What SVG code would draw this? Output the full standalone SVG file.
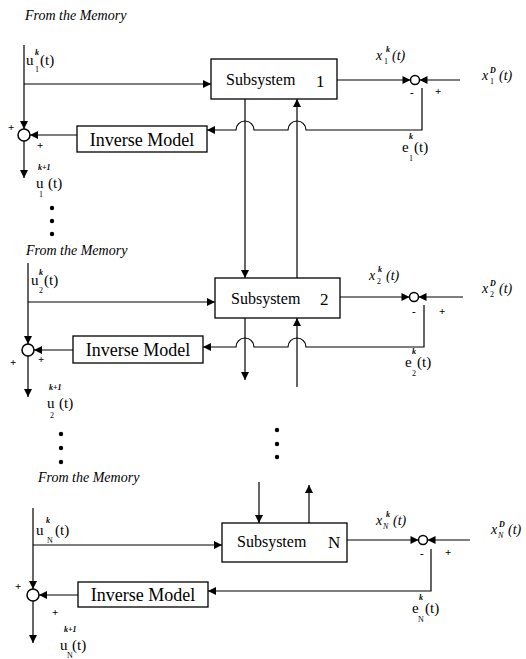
<svg xmlns="http://www.w3.org/2000/svg" width="526" height="659" viewBox="0 0 526 659">
<style>
.ln{fill:none;stroke:#000;stroke-width:1.2}
.bx{fill:#fff;stroke:#000;stroke-width:1.3}
.ci{fill:#fff;stroke:#000;stroke-width:1.5}
.t{font-family:"Liberation Serif",serif;fill:#000}
.mem{font-family:"Liberation Serif",serif;font-style:italic;font-size:14px}
.sub{font-size:16px}
.inv{font-size:18px}
.u{font-size:15px}
.s{font-size:8px}
.si{font-size:8px;font-style:italic;font-weight:bold}
.xi{font-style:italic;font-size:14px}
.pm{font-size:11px;font-weight:bold}
</style>
<defs>
<marker id="ah" viewBox="0 0 10 10" refX="10" refY="5" markerWidth="9" markerHeight="8" markerUnits="userSpaceOnUse" orient="auto"><path d="M0,0 L10,5 L0,10 z" fill="#000"/></marker>
</defs>
<rect width="526" height="659" fill="#fff"/>

<g id="connectors">
<!-- section 1 -->
<path class="ln" d="M24,45 V129" marker-end="url(#ah)"/>
<path class="ln" d="M24,84 H211" marker-end="url(#ah)"/>
<path class="ln" d="M337,80 H410.5" marker-end="url(#ah)"/>
<path class="ln" d="M460,80 H419.5" marker-end="url(#ah)"/>
<path class="ln" d="M422,88 V130 H306 A9,9 0 0 0 288,130 H254 A9,9 0 0 0 236,130 H207" marker-end="url(#ah)"/>
<path class="ln" d="M77,135 H30" marker-end="url(#ah)"/>
<path class="ln" d="M24,141 V178" marker-end="url(#ah)"/>
<path class="ln" d="M245,99 V278" marker-end="url(#ah)"/>
<path class="ln" d="M297,278 V99" marker-end="url(#ah)"/>
<!-- section 2 -->
<path class="ln" d="M28,263 V344" marker-end="url(#ah)"/>
<path class="ln" d="M28,302 H215" marker-end="url(#ah)"/>
<path class="ln" d="M340,297 H409.5" marker-end="url(#ah)"/>
<path class="ln" d="M463,297 H418.5" marker-end="url(#ah)"/>
<path class="ln" d="M424,305 V347 H306 A9,9 0 0 0 288,347 H254 A9,9 0 0 0 236,347 H203" marker-end="url(#ah)"/>
<path class="ln" d="M73,350 H34" marker-end="url(#ah)"/>
<path class="ln" d="M28,356 V397" marker-end="url(#ah)"/>
<path class="ln" d="M245,318 V380" marker-end="url(#ah)"/>
<path class="ln" d="M297,387 V318" marker-end="url(#ah)"/>
<!-- section N -->
<path class="ln" d="M33,508 V589" marker-end="url(#ah)"/>
<path class="ln" d="M33,545 H222" marker-end="url(#ah)"/>
<path class="ln" d="M347,540 H418.5" marker-end="url(#ah)"/>
<path class="ln" d="M470,540 H427.5" marker-end="url(#ah)"/>
<path class="ln" d="M431,549 V591 H208" marker-end="url(#ah)"/>
<path class="ln" d="M78,595 H39" marker-end="url(#ah)"/>
<path class="ln" d="M33,601 V643" marker-end="url(#ah)"/>
<path class="ln" d="M259,482 V523" marker-end="url(#ah)"/>
<path class="ln" d="M309,523 V485" marker-end="url(#ah)"/>
</g>

<g id="subsystem1"><rect class="bx" x="211" y="59" width="126" height="40"/><text class="t sub" x="226" y="85">Subsystem</text><text class="t" x="316" y="87" font-size="17">1</text></g>
<g id="subsystem2"><rect class="bx" x="215" y="278" width="125" height="40"/><text class="t sub" x="231" y="304">Subsystem</text><text class="t" x="320" y="305" font-size="17">2</text></g>
<g id="subsystemN"><rect class="bx" x="222" y="523" width="125" height="39"/><text class="t sub" x="237" y="547">Subsystem</text><text class="t" x="328" y="548" font-size="17">N</text></g>

<g id="inverse1"><rect class="bx" x="77" y="126" width="130" height="26"/><text class="t inv" x="142" y="146" text-anchor="middle">Inverse Model</text></g>
<g id="inverse2"><rect class="bx" x="73" y="336" width="130" height="27"/><text class="t inv" x="138" y="356" text-anchor="middle">Inverse Model</text></g>
<g id="inverseN"><rect class="bx" x="78" y="582" width="130" height="25"/><text class="t inv" x="143" y="601" text-anchor="middle">Inverse Model</text></g>

<g id="sum1"><circle class="ci" cx="24" cy="135" r="6"/><text class="t pm" x="8" y="131">+</text><text class="t pm" x="37" y="149">+</text></g>
<g id="sum2"><circle class="ci" cx="28" cy="350" r="6"/><text class="t pm" x="10" y="366">+</text><text class="t pm" x="38" y="363">+</text></g>
<g id="sumN"><circle class="ci" cx="33" cy="595" r="6"/><text class="t pm" x="15" y="590">+</text><text class="t pm" x="52" y="616">+</text></g>

<g id="err1"><circle class="ci" cx="415" cy="80" r="4.5"/><text class="t pm" x="410" y="96">-</text><text class="t pm" x="435" y="95">+</text></g>
<g id="err2"><circle class="ci" cx="414" cy="297" r="4.5"/><text class="t pm" x="412" y="315">-</text><text class="t pm" x="439" y="315">+</text></g>
<g id="errN"><circle class="ci" cx="423" cy="540" r="4.5"/><text class="t pm" x="420" y="557">-</text><text class="t pm" x="445" y="556">+</text></g>

<g id="labels" class="t">
<text class="mem" x="25" y="20">From the  Memory</text>
<text class="mem" x="26" y="255">From the  Memory</text>
<text class="mem" x="38" y="482">From the  Memory</text>

<text class="u" x="26" y="65">u</text><text class="si" x="35" y="55">k</text><text class="s" x="35" y="72">1</text><text class="u" x="40" y="65">(t)</text>
<text class="u" x="36" y="188">u</text><text class="si" x="38" y="170">k+1</text><text class="s" x="39" y="197">1</text><text class="u" x="48" y="188">(t)</text>

<text class="u" x="31" y="285">u</text><text class="si" x="39" y="275">k</text><text class="s" x="39" y="293">2</text><text class="u" x="44" y="285">(t)</text>
<text class="u" x="47" y="408">u</text><text class="si" x="49" y="390">k+1</text><text class="s" x="50" y="418">2</text><text class="u" x="59" y="408">(t)</text>

<text class="u" x="36" y="535">u</text><text class="si" x="46" y="523">k</text><text class="s" x="47" y="543">N</text><text class="u" x="55" y="535">(t)</text>
<text class="u" x="60" y="650">u</text><text class="si" x="64" y="632">k+1</text><text class="s" x="67" y="658" font-size="7">N</text><text class="u" x="72" y="650">(t)</text>

<text class="xi" x="376" y="60">x</text><text class="s" x="384" y="64" font-size="11">1</text><text class="si" x="386" y="52" font-size="10">k</text><text class="xi" x="392" y="60">(t)</text>
<text class="xi" x="482" y="80">x</text><text class="s" x="490" y="84" font-size="11">1</text><text class="si" x="490" y="73" font-size="10">D</text><text class="xi" x="499" y="80">(t)</text>

<text class="xi" x="369" y="280">x</text><text class="s" x="377" y="284" font-size="11">2</text><text class="si" x="378" y="272" font-size="10">k</text><text class="xi" x="386" y="280">(t)</text>
<text class="xi" x="482" y="293">x</text><text class="s" x="490" y="297" font-size="11">2</text><text class="si" x="490" y="286" font-size="10">D</text><text class="xi" x="499" y="293">(t)</text>

<text class="xi" x="376" y="525">x</text><text class="s" x="383" y="529" font-size="10" font-style="italic">N</text><text class="si" x="386" y="517" font-size="10">k</text><text class="xi" x="393" y="525">(t)</text>
<text class="xi" x="491" y="534">x</text><text class="s" x="498" y="538" font-size="10" font-style="italic">N</text><text class="si" x="499" y="527" font-size="10">D</text><text class="xi" x="508" y="534">(t)</text>

<text class="u" x="402" y="152" font-size="14">e</text><text class="si" x="409" y="139">k</text><text class="s" x="409" y="161">1</text><text class="u" x="414" y="152" font-size="14">(t)</text>
<text class="u" x="405" y="367" font-size="14">e</text><text class="si" x="412" y="354">k</text><text class="s" x="412" y="376">2</text><text class="u" x="417" y="367" font-size="14">(t)</text>
<text class="u" x="412" y="613" font-size="14">e</text><text class="si" x="419" y="600">k</text><text class="s" x="418" y="622">N</text><text class="u" x="425" y="613" font-size="14">(t)</text>
</g>

<g id="dots">
<circle cx="52" cy="208" r="2.2"/><circle cx="52" cy="221" r="2.2"/><circle cx="52" cy="234" r="2.2"/>
<circle cx="61" cy="434" r="2.2"/><circle cx="61" cy="448" r="2.2"/><circle cx="61" cy="462" r="2.2"/>
<circle cx="277" cy="430" r="2.2"/><circle cx="277" cy="444" r="2.2"/><circle cx="277" cy="457" r="2.2"/>
</g>
</svg>
